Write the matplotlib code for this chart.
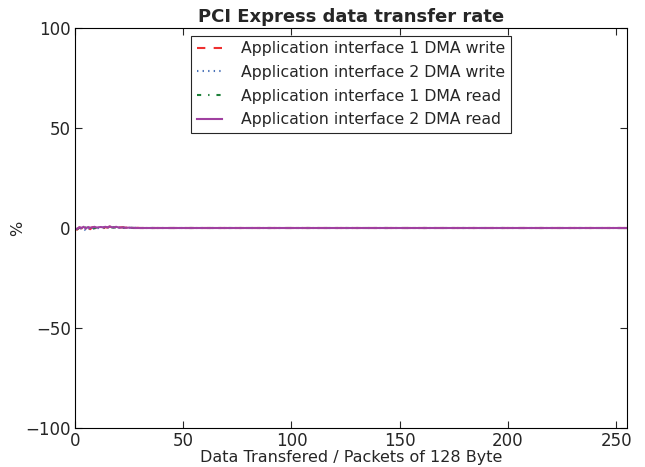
import matplotlib
matplotlib.use('Agg')
import matplotlib.pyplot as plt

plt.rcParams['text.color'] = '#262626'
plt.rcParams['axes.labelcolor'] = '#262626'
plt.rcParams['xtick.color'] = '#262626'
plt.rcParams['ytick.color'] = '#262626'
plt.rcParams['lines.scale_dashes'] = False

# packets 0..255
packets = list(range(256))

# relative deviation in %, noisy during the first packets then flat at zero
w1_start = [-0.5, -0.8, 0.3, -0.2, 0.5, -0.4, 0.2, -0.6, 0.4, 0.1, -0.3, 0.3, 0.6, -0.2, 0.4,
            0.2, 0.7, 0.3, 0.1, 0.5, 0.2, 0.3, 0.4, 0.1, 0.2, 0.1, 0.0, 0.1, 0.0, 0.1]
w2_start = [-0.3, -1.0, -0.6, 0.2, -0.4, -1.2, 0.1, -0.5, -1.1, 0.2, -0.4, 0.1, -0.3, 0.3, -0.2,
            0.2, 0.4, 0.1, 0.3, -0.1, 0.2, 0.1, 0.3, 0.0, 0.1, 0.1, 0.0, 0.0, 0.1, 0.0]
r1_start = [-0.4, -0.6, 0.2, 0.4, -0.3, 0.3, -0.2, 0.1, 0.4, -0.1, 0.2, 0.3, 0.1, 0.2, 0.3,
            0.2, 0.5, 0.2, 0.3, 0.1, 0.2, 0.1, 0.2, 0.1, 0.1, 0.0, 0.1, 0.0, 0.0, 0.0]
r2_start = [-0.2, -0.5, 0.4, 0.1, 0.6, -0.3, 0.5, 0.2, 0.3, 0.6, 0.2, 0.4, 0.5, 0.3, 0.6,
            0.3, 0.8, 0.4, 0.3, 0.6, 0.3, 0.2, 0.3, 0.2, 0.1, 0.2, 0.1, 0.1, 0.0, 0.0]
flat = [0.0] * (256 - 30)

write1 = w1_start + flat
write2 = w2_start + flat
read1 = r1_start + flat
read2 = r2_start + flat

fig = plt.figure(figsize=(6.45, 4.67), dpi=100)
ax = fig.add_axes([75/645, 1 - 428/467, (627-75)/645, (428-28)/467])

ax.plot(packets, write1, color='#ee3030', lw=1.5, dashes=(6, 6),
        label='Application interface 1 DMA write')
ax.plot(packets, write2, color='#4a72b8', lw=1.5, dashes=(1, 3),
        label='Application interface 2 DMA write')
ax.plot(packets, read1, color='#1e803a', lw=1.5, dashes=(3, 5, 1, 5),
        label='Application interface 1 DMA read')
ax.plot(packets, read2, '-', color='#a040a0', lw=1.5,
        label='Application interface 2 DMA read')

ax.set_xlim(0, 255)
ax.set_ylim(-100, 100)
ax.set_xticks([0, 50, 100, 150, 200, 250])
ax.set_yticks([-100, -50, 0, 50, 100])
ax.set_yticklabels(['\u2212100', '\u221250', '0', '50', '100'])
ax.tick_params(direction='in', top=True, right=True, length=5, labelsize=12, pad=3)
ax.set_xlabel('Data Transfered / Packets of 128 Byte', fontsize=11.5, labelpad=0)
ax.set_ylabel('%', fontsize=11.5)
ax.yaxis.set_label_coords(-0.09, 0.5)
ax.set_title('PCI Express data transfer rate', fontsize=13, fontweight='bold', pad=4)

leg = ax.legend(loc='upper center', fontsize=11.3, fancybox=False, framealpha=1,
                edgecolor='#262626', borderpad=0.35, labelspacing=0.55,
                handlelength=1.6, handletextpad=1.2, borderaxespad=0.5)
leg.get_frame().set_linewidth(0.8)

fig.savefig('out.png', dpi=100)
